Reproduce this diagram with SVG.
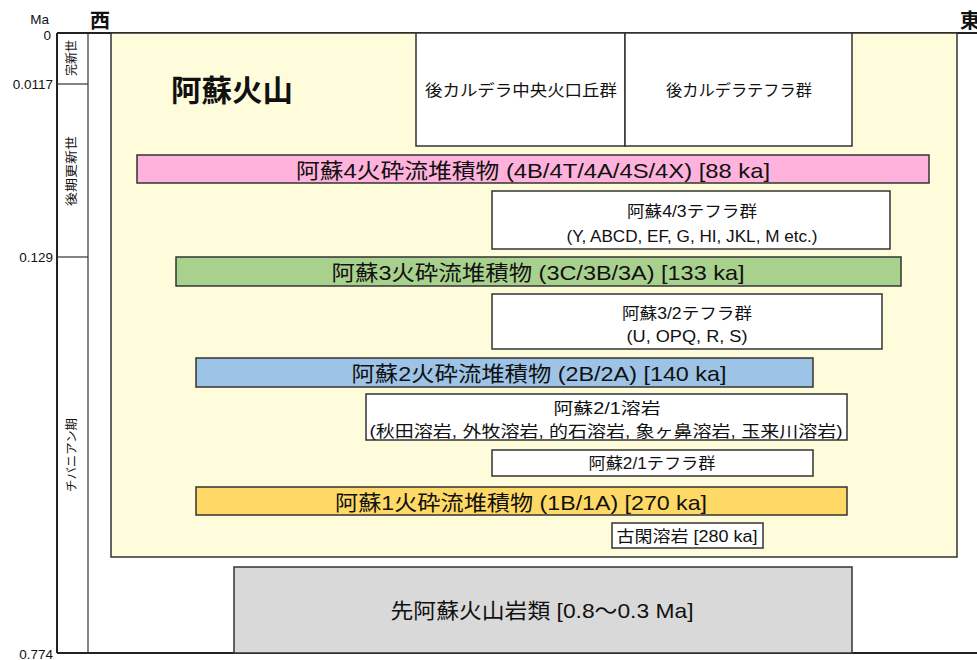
<svg xmlns="http://www.w3.org/2000/svg" width="977" height="660" viewBox="0 0 977 660">
<style>
text{font-family:"Liberation Sans","Noto Sans CJK JP",sans-serif;fill:#111;}
.ax{font-size:13.5px;text-anchor:end;dominant-baseline:central;}
.v{font-size:12px;text-anchor:middle;dominant-baseline:central;}
.lbl{font-size:16px;text-anchor:middle;dominant-baseline:central;}
.big{font-size:21px;text-anchor:middle;dominant-baseline:central;}
.box{stroke:#333;stroke-width:1.5;}
.w{fill:#fff;}
</style>
<rect width="977" height="660" fill="#fff"/>
<g id="axis">
<line x1="57" y1="33" x2="977" y2="33" stroke="#222" stroke-width="2"/>
<line x1="57" y1="653" x2="977" y2="653" stroke="#222" stroke-width="2"/>
<line x1="57" y1="33" x2="57" y2="653" stroke="#222" stroke-width="2"/>
<line x1="88" y1="33" x2="88" y2="653" stroke="#333" stroke-width="1.2"/>
<line x1="57" y1="84" x2="88" y2="84" stroke="#333" stroke-width="1.2"/>
<line x1="57" y1="257" x2="88" y2="257" stroke="#333" stroke-width="1.2"/>
<text class="ax" x="49" y="19">Ma</text>
<text class="ax" x="51" y="35">0</text>
<text class="ax" x="53" y="84">0.0117</text>
<text class="ax" x="53" y="257">0.129</text>
<text class="ax" x="53" y="654">0.774</text>
<text x="90" y="28" style="font-size:20px;font-weight:bold">西</text>
<text x="960" y="28" style="font-size:20px;font-weight:bold">東</text>
<text class="v" transform="translate(72,58) rotate(-90)" textLength="36" lengthAdjust="spacingAndGlyphs">完新世</text>
<text class="v" transform="translate(72,171) rotate(-90)" textLength="70" lengthAdjust="spacingAndGlyphs">後期更新世</text>
<text class="v" transform="translate(72,455) rotate(-90)" textLength="74" lengthAdjust="spacingAndGlyphs">チバニアン期</text>
</g>
<g id="aso">
<rect class="box" x="111" y="33" width="846" height="524" fill="#FFFCDB"/>
<text x="171" y="101" style="font-size:30px;font-weight:bold" textLength="122" lengthAdjust="spacingAndGlyphs">阿蘇火山</text>
</g>
<g id="post-caldera-cones">
<rect class="box w" x="416" y="33" width="209" height="113"/>
<text class="lbl" x="521" y="90" textLength="192" lengthAdjust="spacingAndGlyphs">後カルデラ中央火口丘群</text>
</g>
<g id="post-caldera-tephra">
<rect class="box w" x="625" y="33" width="227" height="113"/>
<text class="lbl" x="739" y="90" textLength="146" lengthAdjust="spacingAndGlyphs">後カルデラテフラ群</text>
</g>
<g id="aso4">
<rect class="box" x="137" y="155" width="792" height="28" fill="#FFB3DC"/>
<text class="big" x="533" y="170" textLength="474" lengthAdjust="spacingAndGlyphs">阿蘇4火砕流堆積物 (4B/4T/4A/4S/4X) [88 ka]</text>
</g>
<g id="aso43-tephra">
<rect class="box w" x="492" y="191" width="398" height="58"/>
<text class="lbl" x="692" y="211" textLength="130" lengthAdjust="spacingAndGlyphs">阿蘇4/3テフラ群</text>
<text class="lbl" x="692" y="236" textLength="251" lengthAdjust="spacingAndGlyphs">(Y, ABCD, EF, G, HI, JKL, M etc.)</text>
</g>
<g id="aso3">
<rect class="box" x="176" y="257" width="725" height="29" fill="#A9D18E"/>
<text class="big" x="538" y="272" textLength="413" lengthAdjust="spacingAndGlyphs">阿蘇3火砕流堆積物 (3C/3B/3A) [133 ka]</text>
</g>
<g id="aso32-tephra">
<rect class="box w" x="492" y="294" width="390" height="55"/>
<text class="lbl" x="687" y="313" textLength="130" lengthAdjust="spacingAndGlyphs">阿蘇3/2テフラ群</text>
<text class="lbl" x="687" y="336" textLength="121" lengthAdjust="spacingAndGlyphs">(U, OPQ, R, S)</text>
</g>
<g id="aso2">
<rect class="box" x="196" y="358" width="617" height="29" fill="#9DC3E6"/>
<text class="big" x="539" y="373" textLength="375" lengthAdjust="spacingAndGlyphs">阿蘇2火砕流堆積物 (2B/2A) [140 ka]</text>
</g>
<g id="aso21-lava">
<rect class="box w" x="366" y="394" width="481" height="46"/>
<text class="lbl" x="607" y="408" textLength="107" lengthAdjust="spacingAndGlyphs">阿蘇2/1溶岩</text>
<text class="lbl" x="606" y="431" textLength="473" lengthAdjust="spacingAndGlyphs">(秋田溶岩, 外牧溶岩, 的石溶岩, 象ヶ鼻溶岩, 玉来川溶岩)</text>
</g>
<g id="aso21-tephra">
<rect class="box w" x="492" y="450" width="321" height="26"/>
<text class="lbl" x="652" y="463" textLength="127" lengthAdjust="spacingAndGlyphs">阿蘇2/1テフラ群</text>
</g>
<g id="aso1">
<rect class="box" x="196" y="487" width="651" height="28" fill="#FFD966"/>
<text class="big" x="521" y="502" textLength="372" lengthAdjust="spacingAndGlyphs">阿蘇1火砕流堆積物 (1B/1A) [270 ka]</text>
</g>
<g id="koga-lava">
<rect class="box w" x="612" y="523" width="151" height="25"/>
<text class="lbl" x="687" y="536" textLength="141" lengthAdjust="spacingAndGlyphs">古閑溶岩 [280 ka]</text>
</g>
<g id="pre-aso">
<rect class="box" x="234" y="567" width="618" height="86" fill="#D9D9D9"/>
<text class="big" x="542" y="610" textLength="303" lengthAdjust="spacingAndGlyphs">先阿蘇火山岩類 [0.8～0.3 Ma]</text>
</g>
<g id="connectors"/>
</svg>
